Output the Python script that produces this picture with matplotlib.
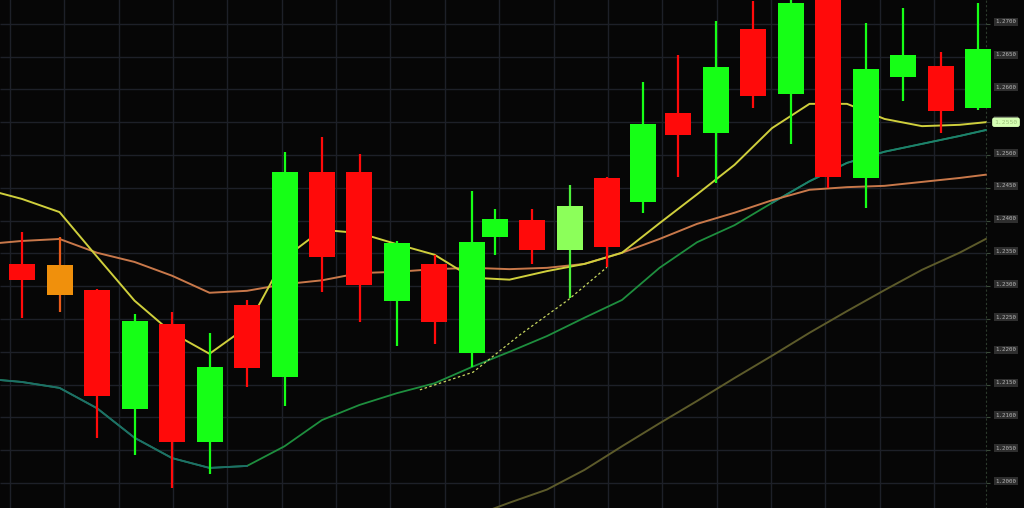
import matplotlib
matplotlib.use("Agg")
import matplotlib.pyplot as plt
from matplotlib.patches import Rectangle
import numpy as np

# candle slots (time index), OHLC prices
slots = [0, 1, 2, 3, 4, 5, 6, 7, 8, 9, 10, 11, 12, 12.6, 13.6, 14.6,
         15.6, 16.55, 17.5, 18.5, 19.5, 20.5, 21.5, 22.5, 23.5, 24.5, 25.5]
opens  = [1.2334, 1.2332, 1.2294, 1.2113, 1.2242, 1.2063, 1.2271, 1.2162, 1.2474,
          1.2474, 1.2277, 1.2334, 1.2198, 1.2375, 1.2401, 1.2355, 1.2465, 1.2428,
          1.2564, 1.2534, 1.2692, 1.2593, 1.2752, 1.2465, 1.2619, 1.2636, 1.2572]
highs  = [1.2383, 1.2375, 1.2296, 1.2258, 1.2261, 1.2229, 1.2279, 1.2505, 1.2527,
          1.2502, 1.2369, 1.2348, 1.2445, 1.2418, 1.2418, 1.2454, 1.2466, 1.2611,
          1.2652, 1.2704, 1.2735, 1.2745, 1.2760, 1.2701, 1.2724, 1.2657, 1.2732]
lows   = [1.2252, 1.2261, 1.2069, 1.2043, 1.1992, 1.2014, 1.2146, 1.2117, 1.2291,
          1.2245, 1.2209, 1.2212, 1.2177, 1.2348, 1.2334, 1.2282, 1.2329, 1.2412,
          1.2466, 1.2457, 1.2572, 1.2517, 1.2450, 1.2419, 1.2582, 1.2534, 1.2569]
closes = [1.2309, 1.2287, 1.2133, 1.2247, 1.2063, 1.2177, 1.2175, 1.2474, 1.2345,
          1.2302, 1.2366, 1.2245, 1.2367, 1.2402, 1.2355, 1.2422, 1.2360, 1.2547,
          1.2530, 1.2634, 1.2590, 1.2732, 1.2466, 1.2631, 1.2652, 1.2567, 1.2662]

# moving averages sampled along the time axis
ma_x = [-0.59, 0, 1, 2, 3, 4, 5, 6, 7, 8, 9, 10, 11, 12, 13, 14, 15, 16, 17,
        18, 19, 20, 21, 22, 23, 24, 25, 25.7]
ma_fast = [1.2442, 1.2433, 1.2413, 1.2345, 1.2278, 1.2229, 1.2197, 1.2238, 1.2343,
           1.2386, 1.2381, 1.2364, 1.2348, 1.2313, 1.2310, 1.2323, 1.2334, 1.2351,
           1.2396, 1.2440, 1.2485, 1.2541, 1.2578, 1.2578, 1.2555, 1.2544, 1.2546, 1.2550]
ma_mid = [1.2366, 1.2369, 1.2372, 1.2351, 1.2337, 1.2316, 1.2290, 1.2293, 1.2303,
          1.2309, 1.2320, 1.2322, 1.2326, 1.2328, 1.2326, 1.2328, 1.2334, 1.2351,
          1.2372, 1.2395, 1.2412, 1.2431, 1.2447, 1.2451, 1.2453, 1.2459, 1.2465, 1.2470]
ma_slow = [1.2157, 1.2154, 1.2145, 1.2114, 1.2069, 1.2038, 1.2023, 1.2026, 1.2056,
           1.2096, 1.2119, 1.2137, 1.2152, 1.2177, 1.2200, 1.2224, 1.2252, 1.2279,
           1.2328, 1.2367, 1.2393, 1.2427, 1.2460, 1.2488, 1.2505, 1.2517, 1.2529, 1.2538]
ma_long_x = [12.48, 13, 14, 15, 16, 17, 18, 19, 20, 21, 22, 23, 24, 25, 25.7]
ma_long = [1.1959, 1.1970, 1.1990, 1.2020, 1.2056, 1.2091, 1.2125, 1.2160, 1.2194,
           1.2229, 1.2262, 1.2294, 1.2325, 1.2351, 1.2372]
trend_x = [10.61, 12.03, 13.28, 14.56, 15.6]
trend_y = [1.2142, 1.2169, 1.2226, 1.2279, 1.2329]

grid_prices = np.round(np.arange(1.2000, 1.27001, 0.005), 4)

BG = "#060606"
RED = "#ff0a0a"
GREEN = "#16ff16"
special = {1: ("#f0900c", "#e85a1a"), 15: ("#8cff5a", "#4cf03a")}

PX = 37.5          # pixels per slot
X0 = 22            # pixel of slot 0
def px(p):
    return (p - X0) / PX

fig = plt.figure(figsize=(10.24, 5.08), dpi=100, facecolor=BG)
ax = fig.add_axes([0, 0, 1, 1])
ax.set_facecolor(BG)
ax.set_xlim(px(0), px(1024))
ax.set_ylim(1.19619, 1.27363)
ax.axis("off")

x_edge = px(986)
# grid
ax.hlines(grid_prices, px(0), x_edge, color="#1d2028", lw=1.0, zorder=0)
ax.vlines([px(10 + 54.35 * k) for k in range(18)], 1.19, 1.28,
          color="#1d2028", lw=1.0, zorder=0)
ax.vlines(x_edge, 1.19, 1.28, color="#2c3a2c", lw=0.8, ls=(0, (2, 2)), zorder=0)

# moving averages
ax.plot(ma_long_x, ma_long, color="#5c5a2a", lw=1.4, zorder=1)
ax.plot(ma_x, ma_slow, color="#1e8e3e", lw=1.3, zorder=1)
ax.plot(ma_x[:8], ma_slow[:8], color="#1d6e6a", lw=1.3, zorder=1)
ax.plot(ma_x[21:], ma_slow[21:], color="#1c8070", lw=1.3, zorder=1)
ax.plot(ma_x, ma_mid, color="#c8784a", lw=1.4, zorder=1)
ax.plot(ma_x, ma_fast, color="#cfcf3c", lw=1.4, zorder=1)
ax.plot(trend_x, trend_y, color="#c8d860", lw=0.9, ls=(0, (2, 2)), zorder=1)

# candles
w = 26 / PX
for i, (x, o, h, l, c) in enumerate(zip(slots, opens, highs, lows, closes)):
    col = GREEN if c >= o else RED
    body, wick = special.get(i, (col, col))
    ax.vlines(x, l, h, color=wick, lw=1.6, zorder=2, clip_on=False)
    ax.add_patch(Rectangle((x - w / 2, min(o, c)), w, abs(c - o),
                           facecolor=body, edgecolor="none", zorder=3, clip_on=False))

# right-hand price labels
lab_x = px(1006)
for p in grid_prices:
    ax.hlines(p, x_edge, px(990), color="#3a4a3a", lw=0.8)
    ax.text(lab_x, p + 0.0003, f"{p:.4f}", ha="center", va="center", fontsize=4.2,
            color="#b4b4b4", family="DejaVu Sans Mono",
            bbox=dict(boxstyle="square,pad=0.25", fc="#2e2e2e", ec="none"))
last = ma_fast[-1]
ax.text(lab_x, last, f"{last:.4f}", ha="center", va="center", fontsize=4.6,
        color="#9cc07a", family="DejaVu Sans Mono",
        bbox=dict(boxstyle="round,pad=0.35", fc="#d6ffb4", ec="none"))

fig.savefig("out.png", dpi=100, facecolor=BG)
plt.close(fig)
